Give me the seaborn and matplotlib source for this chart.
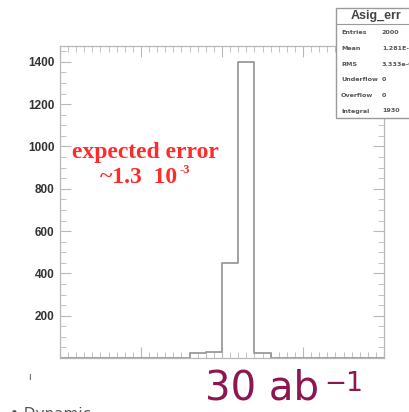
import numpy as np
import pandas as pd
import seaborn as sns
import matplotlib
matplotlib.use("Agg")
import matplotlib.pyplot as plt
from matplotlib.patches import Rectangle
from matplotlib.ticker import MultipleLocator

# Histogram of the fitted asymmetry error (20 bins)
x_range = (0.0, 0.004)
n_bins = 20
bin_counts = [0, 0, 0, 0, 0, 0, 0, 0, 25, 30, 450, 1400, 25, 0, 0, 0, 0, 0, 0, 0]
y_ticks = [200, 400, 600, 800, 1000, 1200, 1400]
y_tick_labels = ["200", "400", "600", "800", "1000", "1200", "1400"]

stats_title = "Asig_err"
stats_names = ["Entries", "Mean", "RMS", "Underflow", "Overflow", "Integral"]
stats_values = ["2000", "1.281E-03", "3.333e-05", "0", "0", "1930"]

edges = np.linspace(x_range[0], x_range[1], n_bins + 1)
centers = 0.5 * (edges[:-1] + edges[1:])
df = pd.DataFrame({"asig_err": centers, "count": bin_counts})

sns.set_style("white")
plt.rcParams["font.family"] = ["DejaVu Sans"]

fig = plt.figure(figsize=(4.10, 4.12), dpi=100)
ax = fig.add_axes([60 / 410, 54 / 412, 324 / 410, 312 / 412])

sns.histplot(data=df, x="asig_err", weights="count", bins=n_bins,
             binrange=x_range, element="step", fill=False, color="#9a9a9a",
             linewidth=1.3, ax=ax)

ax.set_xlim(*x_range)
ax.set_ylim(0, 1475)
ax.set_xlabel("")
ax.set_ylabel("")

edge = "#b8b8b8"
for s in ax.spines.values():
    s.set_color(edge)
    s.set_linewidth(0.9)

ax.set_yticks(y_ticks)
ax.set_yticklabels(y_tick_labels, fontsize=8.5, color="#333333",
                   fontweight="bold", family="Liberation Sans")
ax.yaxis.set_minor_locator(MultipleLocator(50))
ax.xaxis.set_major_locator(MultipleLocator(0.001))
ax.xaxis.set_minor_locator(MultipleLocator(0.0001))
ax.set_xticklabels([])
ax.tick_params(axis="both", which="major", direction="in", length=8, width=0.8,
               color=edge, top=True, right=True, left=True, bottom=True, pad=4)
ax.tick_params(axis="both", which="minor", direction="in", length=4, width=0.6,
               color=edge, top=True, right=True, left=True, bottom=True)

red = "#ff2a2a"
ax.text(0.265, 0.66, "expected error", transform=ax.transAxes, ha="center",
        va="center", color=red, fontsize=17, fontweight="bold",
        family="Liberation Serif")
base = ax.text(0.125, 0.58, "~1.3  10", transform=ax.transAxes, ha="left",
               va="center", color=red, fontsize=17, fontweight="bold",
               family="Liberation Serif")
ax.annotate("-3", xy=(1.0, 0.55), xycoords=base, xytext=(1, 0),
            textcoords="offset points", ha="left", va="bottom", color=red,
            fontsize=9, fontweight="bold", family="Liberation Serif")

# Statistics box in the top-right corner
box_x0, box_y0 = 336 / 410, 1 - 118 / 412
fig.patches.append(Rectangle((box_x0, box_y0), 0.25, 110 / 412,
                             transform=fig.transFigure, facecolor="white",
                             edgecolor="#9a9a9a", linewidth=1.0, zorder=5))
fig.lines.append(plt.Line2D([box_x0, 1.0], [1 - 24 / 412] * 2,
                            transform=fig.transFigure, color="#9a9a9a",
                            linewidth=0.8, zorder=6))
fig.text(376 / 410, 1 - 16 / 412, stats_title, ha="center", va="center",
         fontsize=9, color="#444444", fontweight="bold",
         family="Liberation Sans", zorder=7)
for i, (name, val) in enumerate(zip(stats_names, stats_values)):
    y = 1 - (33 + i * 15.6) / 412
    fig.text(341 / 410, y, name, ha="left", va="center", fontsize=4.6,
             color="#555555", fontweight="bold", zorder=7)
    fig.text(382 / 410, y, val, ha="left", va="center", fontsize=4.6,
             color="#555555", fontweight="bold", zorder=7)

fig.text(30 / 410, 1 - 377 / 412, "ı", ha="center", va="center",
         fontsize=7, color="#555555")

purple = "#8e1650"
fig.text(205 / 410, 1 - 388 / 412, "30 ab", ha="left", va="center",
         fontsize=29, color=purple, family="DejaVu Sans")
fig.text(324 / 410, 1 - 384 / 412, "\u22121", ha="left", va="center",
         fontsize=19, color=purple, family="DejaVu Sans")

fig.text(10 / 410, -3 / 412, "• Dynamic", ha="left", va="center",
         fontsize=11, color="#555555")

fig.savefig("out.png", dpi=100)
